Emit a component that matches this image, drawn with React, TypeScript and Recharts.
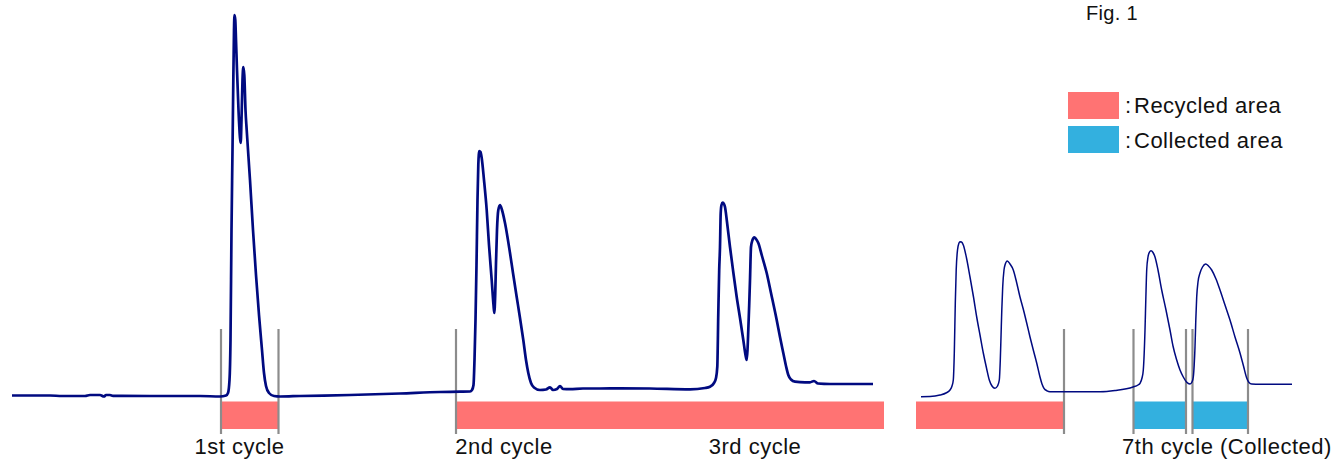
import React from "react"
import { LineChart, Line, XAxis, YAxis, ReferenceArea, ReferenceLine } from "recharts"

// time axis (arbitrary units) and detector signal
const leftTime = [
  12, 50, 62, 85, 90, 100, 104, 106, 110, 113, 150, 200, 220, 226, 228, 229.5, 230.5, 231.5, 232.5, 233.2, 234,
  234.5, 235.3, 236, 237, 238.5, 240, 240.7, 241.5, 242.5, 243.3, 244.3, 245.5, 246.7, 250, 253, 256, 259, 262, 264,
  266, 269, 274, 280, 300, 350, 400, 440, 460, 470, 472, 473.5, 474.5, 475.5, 476.5, 477.5, 478.3, 479.3, 480.5,
  481.7, 484, 486.7, 489, 491.7, 493.5, 494.3, 495.2, 496, 497, 498.3, 500, 502, 505, 510, 513, 516.7, 520, 523.3,
  526, 528.3, 531, 534, 540, 546, 550, 553, 557, 560, 563, 570, 583, 600, 620, 650, 690, 705, 710, 714, 716, 717.3,
  718.3, 719.2, 720, 720.7, 721.5, 722.7, 724, 725, 727, 730, 733, 736.7, 740, 743.3, 745.5, 746.7, 747.5, 748.3,
  749.2, 750, 751, 752.5, 754.3, 756, 758.3, 762, 766.7, 771, 776.7, 780, 783.3, 786, 788.3, 791, 795, 805, 810,
  814, 818, 830, 873,
]
const leftSignal = [
  0.5, 0.5, 0, 0, 1, 1, -0.5, 1, 1, 0.2, 0, 0, -0.5, 0.5, 3, 16, 56, 166, 246, 306, 366, 381, 376, 356, 326, 286,
  258, 253, 276, 316, 329, 321, 286, 266, 216, 166, 121, 81, 46, 23, 10, 3, 0, -0.5, 0, 1, 2.5, 4, 4.3, 4.5, 6, 11,
  36, 76, 131, 196, 231, 245, 244, 238, 216, 186, 151, 116, 91, 83, 101, 133, 166, 186, 191, 186, 173, 143, 123, 99,
  78, 56, 36, 23, 13, 8.5, 6, 6.5, 8.7, 6, 7, 10, 7, 6.8, 7.5, 7.5, 7.7, 7.5, 6.7, 8, 9.3, 13, 18, 29.3, 83, 126,
  149, 183, 191, 193.3, 192, 189, 174, 149, 126, 99, 78, 56, 41, 36, 46, 66, 91, 116, 149, 156, 158.7, 157, 153,
  140, 123, 103, 76, 59, 43, 30, 21, 16.5, 14.3, 13.7, 13.7, 15, 12.5, 12, 12,
]
const rightTime = [
  921, 930, 940, 946, 950, 952, 953.3, 954.3, 955.3, 956.2, 957.5, 959, 960, 961.5, 963.3, 966.5, 970, 973.5, 976.7,
  980, 983.3, 986.5, 989.3, 992, 995, 997.5, 999.3, 1000.3, 1001, 1001.8, 1002.7, 1004, 1005, 1007.3, 1010, 1013.3,
  1016.5, 1020, 1023.5, 1026.7, 1030, 1033.3, 1036.7, 1040, 1042, 1044, 1047, 1050, 1063, 1080, 1100, 1115, 1133,
  1138, 1140, 1142, 1143.3, 1145, 1145.8, 1146.7, 1148, 1149.5, 1151, 1153, 1155, 1158, 1161.7, 1166, 1170, 1173,
  1176.7, 1180, 1183.3, 1186.5, 1190, 1192, 1193.3, 1194.2, 1195, 1195.8, 1196.7, 1198, 1200, 1202.5, 1205.7,
  1208.5, 1211.7, 1216, 1220, 1225, 1230, 1235, 1240, 1243.5, 1246.7, 1249, 1251.7, 1260, 1275, 1292,
]
const rightSignal = [
  -0.7, -0.5, 1, 3, 6, 10, 16, 43, 93, 126, 146, 153, 154.3, 154, 151, 138, 119, 99, 79, 61, 43, 28, 16, 10, 7.7,
  10, 16, 36, 59, 86, 109, 126, 131, 135, 132, 126, 114, 99, 86, 73, 59, 46, 33, 19, 12, 7.7, 5.2, 4.3, 4.3, 4.3,
  4.3, 5.5, 9, 11, 12.7, 18, 26, 66, 96, 126, 139, 144, 145.3, 143.5, 139, 126, 106, 86, 66, 50, 36, 26, 19, 14, 12,
  14, 19, 31, 49, 76, 99, 114, 123, 129, 132, 130, 126, 117, 106, 91, 76, 59, 43, 30, 18, 13.5, 12, 11.7, 11.7, 11.7,
]

// fraction windows (start, end) on the time axis
const recycledWindows = [[221, 278.5], [456, 884], [916, 1064]]
const collectedWindows = [[1133.5, 1186], [1192.5, 1248]]
const cutTimes = [221, 278.5, 456, 1064, 1133.5, 1186, 1192.5, 1248]

const cycleLabels = ["1st cycle", "2nd cycle", "3rd cycle", "7th cycle (Collected)"]
const cycleLabelX = [239.5, 504, 755, 1227]

// one table, the two traces are kept apart by nulls
const traceData = [
  ...leftTime.map((t, i) => ({ t, a: leftSignal[i], b: null })),
  ...rightTime.map((t, i) => ({ t, a: null, b: rightSignal[i] })),
]

const PINK = "#ff7373"
const BLUE = "#33b0df"
const NAVY = "#000a80"
const GRAY = "#8c8c8c"
const FONT = "'Liberation Sans', Arial, sans-serif"

export default function App() {
  return (
    <div style={{ position: "absolute", left: 0, top: 0, width: 1333, height: 460, background: "#fff" }}>
      <LineChart width={1333} height={460} data={traceData} margin={{ top: 0, right: 0, bottom: 0, left: 0 }}>
        <XAxis type="number" dataKey="t" domain={[0, 1333]} allowDataOverflow hide />
        <YAxis type="number" domain={[-64, 396]} allowDataOverflow hide />
        {recycledWindows.map(([a, b], i) => (
          <ReferenceArea key={"r" + i} x1={a} x2={b} y1={-33} y2={-5.5} fill={PINK} fillOpacity={1} stroke="none" />
        ))}
        {collectedWindows.map(([a, b], i) => (
          <ReferenceArea key={"c" + i} x1={a} x2={b} y1={-33} y2={-5.5} fill={BLUE} fillOpacity={1} stroke="none" />
        ))}
        {cutTimes.map((t, i) => (
          <ReferenceLine
            key={"l" + i}
            segment={[{ x: t, y: 67 }, { x: t, y: -38 }]}
            stroke={GRAY}
            strokeWidth={2.2}
          />
        ))}
        <Line
          dataKey="a"
          type="monotone"
          stroke={NAVY}
          strokeWidth={2.7}
          dot={false}
          activeDot={false}
          isAnimationActive={false}
        />
        <Line
          dataKey="b"
          type="monotone"
          stroke={NAVY}
          strokeWidth={1.5}
          dot={false}
          activeDot={false}
          isAnimationActive={false}
        />
      </LineChart>
      <svg
        width={1333}
        height={460}
        style={{ position: "absolute", left: 0, top: 0, pointerEvents: "none" }}
        fontFamily={FONT}
        fontSize={22}
        fill="#111"
      >
        {cycleLabels.map((s, i) => (
          <text key={s} x={cycleLabelX[i]} y={454} textAnchor="middle" letterSpacing={0.5}>
            {s}
          </text>
        ))}
        <text x={1086} y={20} fontSize={20} letterSpacing={0.3}>Fig. 1</text>
        <rect x={1068} y={92} width={51} height={27} fill={PINK} />
        <rect x={1068} y={126} width={51} height={27} fill={BLUE} />
        <text x={1125} y={113}>:</text>
        <text x={1134} y={113} letterSpacing={0.5}>Recycled area</text>
        <text x={1125} y={148}>:</text>
        <text x={1134} y={148} letterSpacing={0.5}>Collected area</text>
      </svg>
    </div>
  )
}
